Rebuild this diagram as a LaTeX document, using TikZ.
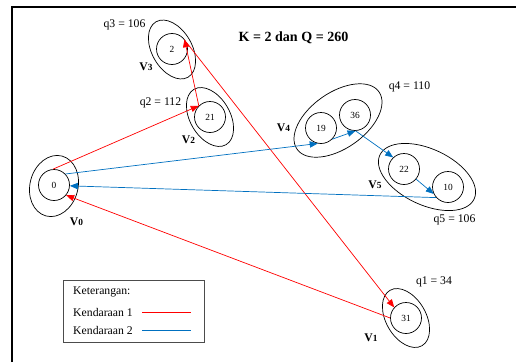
\documentclass[tikz,border=0pt]{standalone}
\usepackage{fontspec}
\setmainfont{Liberation Serif}
\usetikzlibrary{arrows.meta}
\definecolor{biru}{RGB}{0,112,192}

\begin{document}
\begin{tikzpicture}[x=0.03cm, y=-0.03cm, font=\normalsize,
    pelanggan/.style={draw, circle, minimum size=0.93cm, inner sep=0pt, line width=0.6pt, font=\footnotesize},
    kelompok/.style={draw, line width=0.6pt},
    rute1/.style={draw=red, line width=0.6pt, -{Triangle[length=2.4mm, width=1.9mm]}},
    rute2/.style={draw=biru, line width=0.6pt, -{Triangle[length=2.4mm, width=1.9mm]}},
    label/.style={inner sep=0pt},
  ]
  \useasboundingbox (0,0) rectangle (516,362);
  % frame (only top and left edges show)
  \draw[line width=1.1pt] (12,362) -- (12,7) -- (516,7);

  \node[label, font=\large\bfseries] (judul) at (293.5,38) {K = 2 dan Q = 260};

  % customers
  \node[pelanggan] (n0)  at (54,185)  {0};
  \node[pelanggan] (n2)  at (172,49)  {2};
  \node[pelanggan] (n21) at (210,117) {21};
  \node[pelanggan] (n19) at (321,128) {19};
  \node[pelanggan] (n36) at (355,115) {36};
  \node[pelanggan] (n22) at (404,169) {22};
  \node[pelanggan] (n10) at (448,187) {10};
  \node[pelanggan] (n31) at (406,318) {31};

  % clusters
  \draw[kelompok, rotate around={-15:(54,186)}] (54,186) ellipse (24 and 31);
  \draw[kelompok, rotate around={30:(172,49.5)}] (172,49.5) ellipse (20 and 32);
  \draw[kelompok, rotate around={30:(210,117)}] (210,117) ellipse (20 and 32);
  \draw[kelompok, rotate around={35:(338,120.5)}] (338,120.5) ellipse (50 and 28);
  \draw[kelompok, rotate around={-25:(427,177)}] (427,177) ellipse (52 and 28);
  \draw[kelompok, rotate around={30:(406,318)}] (406,318) ellipse (20 and 32);

  % cluster labels
  \node[label] (v0) at (76.5,222) {\textbf{V{\footnotesize 0}}};
  \node[label] (v1) at (371,338)  {\textbf{V{\footnotesize 1}}};
  \node[label] (v2) at (188.5,140) {\textbf{V{\footnotesize 2}}};
  \node[label] (v3) at (146,67)   {\textbf{V{\footnotesize 3}}};
  \node[label] (v4) at (283.5,128) {\textbf{V{\footnotesize 4}}};
  \node[label] (v5) at (375,185)  {\textbf{V{\footnotesize 5}}};
  \node[label] (q1) at (434,282)   {q1 = 34};
  \node[label] (q2) at (160.5,103) {q2 = 112};
  \node[label] (q3) at (124.5,25)  {q3 = 106};
  \node[label] (q4) at (409.5,87)  {q4 = 110};
  \node[label] (q5) at (454.5,220) {q5 = 106};

  % route 1
  \draw[rute1] (n0.94) -- (n21.135);
  \draw[rute1] (n21.135) -- (n2.38);
  \draw[rute1] (n2.25) -- (n31.138);
  \draw[rute1] (n31.180) -- (n0.-40);
  % route 2
  \draw[rute2] (n0.44) -- (n19.-102);
  \draw[rute2] (n19.-45) -- (n36.-88);
  \draw[rute2] (n36.-88) -- (n22.133);
  \draw[rute2] (n22.-40) -- (n10.-154);
  \draw[rute2] (n10.-138) -- (n0.-3);

  % legend
  \draw[draw=black!70, line width=0.8pt] (63,280) rectangle (204,342);
  \node[label, anchor=west] (ket) at (73,292) {Keterangan:};
  \node[label, anchor=west] (k1) at (73,312) {Kendaraan 1};
  \node[label, anchor=west] (k2) at (73,330) {Kendaraan 2};
  \coordinate (k1a) at (142,312); \coordinate (k1b) at (191,312);
  \coordinate (k2a) at (142,330); \coordinate (k2b) at (191,330);
  \draw[red, line width=0.6pt] (k1a) -- (k1b);
  \draw[biru, line width=0.6pt] (k2a) -- (k2b);
\end{tikzpicture}
\end{document}
